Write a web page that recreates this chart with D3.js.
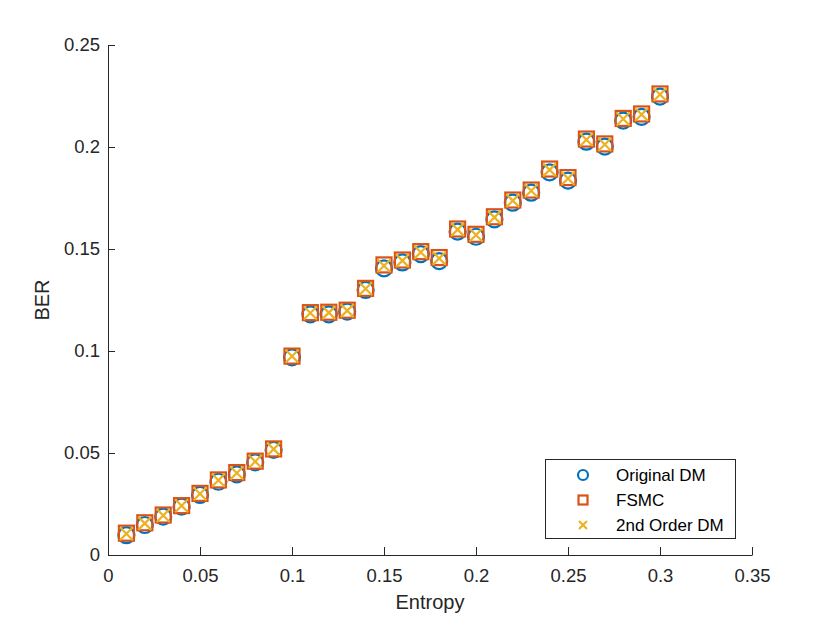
<!DOCTYPE html>
<html>
<head>
<meta charset="utf-8">
<script src="https://cdn.jsdelivr.net/npm/d3@7"></script>
<style>
  html, body { margin: 0; padding: 0; background: #fff; }
  svg { display: block; font-family: "Liberation Sans", Arial, sans-serif; }
</style>
</head>
<body>
<div id="chart"></div>
<script>
// ── data ──────────────────────────────────────────────
const entropy = [0.01, 0.02, 0.03, 0.04, 0.05, 0.06, 0.07, 0.08, 0.09, 0.10,
                 0.11, 0.12, 0.13, 0.14, 0.15, 0.16, 0.17, 0.18, 0.19, 0.20,
                 0.21, 0.22, 0.23, 0.24, 0.25, 0.26, 0.27, 0.28, 0.29, 0.30];

const berOriginal = [0.0097, 0.0147, 0.0188, 0.0237, 0.0294, 0.0359, 0.0395, 0.0454, 0.0515, 0.0969,
                     0.1180, 0.1180, 0.1193, 0.1299, 0.1405, 0.1434, 0.1475, 0.1441, 0.1585, 0.1560,
                     0.1645, 0.1727, 0.1776, 0.1876, 0.1835, 0.2026, 0.2002, 0.2129, 0.2148, 0.2247];

const berFSMC = [0.0107, 0.0158, 0.0196, 0.0242, 0.0302, 0.0368, 0.0404, 0.0460, 0.0520, 0.0975,
                 0.1188, 0.1190, 0.1200, 0.1307, 0.1422, 0.1446, 0.1487, 0.1458, 0.1598, 0.1572,
                 0.1658, 0.1740, 0.1789, 0.1892, 0.1850, 0.2039, 0.2015, 0.2140, 0.2162, 0.2260];

const ber2nd = [0.0104, 0.0155, 0.0194, 0.0241, 0.0300, 0.0366, 0.0402, 0.0458, 0.0519, 0.0974,
                0.1186, 0.1188, 0.1198, 0.1305, 0.1418, 0.1443, 0.1484, 0.1454, 0.1595, 0.1569,
                0.1655, 0.1737, 0.1786, 0.1888, 0.1846, 0.2036, 0.2012, 0.2137, 0.2159, 0.2257];

const xTicks = [0, 0.05, 0.1, 0.15, 0.2, 0.25, 0.3, 0.35];
const yTicks = [0, 0.05, 0.1, 0.15, 0.2, 0.25];
const seriesNames = ['Original DM', 'FSMC', '2nd Order DM'];

const COLOR = { blue: '#0072BD', orange: '#D95319', yellow: '#EDB120', axis: '#262626' };

// ── layout ────────────────────────────────────────────
const W = 830, H = 623;
const M = { left: 108, right: 78, top: 45, bottom: 68 };

const svg = d3.select('#chart').append('svg')
  .attr('width', W).attr('height', H);

const x = d3.scaleLinear().domain([0, 0.35]).range([M.left, W - M.right]);
const y = d3.scaleLinear().domain([0, 0.25]).range([H - M.bottom, M.top]);

// ── axes ──────────────────────────────────────────────
const xAxis = svg.append('g')
  .attr('transform', `translate(0,${y(0)})`)
  .call(d3.axisBottom(x).tickValues(xTicks).tickSizeInner(-8).tickSizeOuter(0)
    .tickPadding(14).tickFormat(d => d3.format('~g')(d)));

const yAxis = svg.append('g')
  .attr('transform', `translate(${x(0)},0)`)
  .call(d3.axisLeft(y).tickValues(yTicks).tickSizeInner(-7).tickSizeOuter(0)
    .tickPadding(8).tickFormat(d => d3.format('~g')(d)));

[xAxis, yAxis].forEach(g => {
  g.select('.domain').attr('stroke', COLOR.axis).attr('stroke-width', 1);
  g.selectAll('.tick line').attr('stroke', COLOR.axis).attr('stroke-width', 1);
  g.selectAll('.tick text').attr('fill', COLOR.axis).style('font-size', '18.5px');
});

svg.append('text')
  .attr('x', x(0.175)).attr('y', 609)
  .attr('text-anchor', 'middle')
  .attr('fill', COLOR.axis).style('font-size', '20px')
  .text('Entropy');

svg.append('text')
  .attr('transform', `translate(49,${y(0.125)}) rotate(-90)`)
  .attr('text-anchor', 'middle')
  .attr('fill', COLOR.axis).style('font-size', '20px')
  .text('BER');

// ── markers ───────────────────────────────────────────
function circle(g, cx, cy, r) {
  g.append('circle').attr('cx', cx).attr('cy', cy).attr('r', r)
    .attr('fill', 'none').attr('stroke', COLOR.blue).attr('stroke-width', 2.2);
}
function square(g, cx, cy, s) {
  g.append('rect').attr('x', cx - s / 2).attr('y', cy - s / 2)
    .attr('width', s).attr('height', s)
    .attr('fill', 'none').attr('stroke', COLOR.orange).attr('stroke-width', 2.2);
}
function cross(g, cx, cy, s) {
  const h = s / 2;
  g.append('path')
    .attr('d', `M${cx - h},${cy - h}L${cx + h},${cy + h}M${cx - h},${cy + h}L${cx + h},${cy - h}`)
    .attr('stroke', COLOR.yellow).attr('stroke-width', 2.2).attr('fill', 'none');
}

const gO = svg.append('g'), gF = svg.append('g'), gS = svg.append('g');
entropy.forEach((e, i) => {
  circle(gO, x(e), y(berOriginal[i]), 8);
  square(gF, x(e), y(berFSMC[i]), 15);
  cross(gS, x(e), y(ber2nd[i]), 13);
});

// ── legend ────────────────────────────────────────────
const leg = svg.append('g');
leg.append('rect')
  .attr('x', 545.5).attr('y', 459.5).attr('width', 190).attr('height', 79)
  .attr('fill', '#fff').attr('stroke', COLOR.axis).attr('stroke-width', 1);

const rowY = [475, 500, 525];
circle(leg, 583, rowY[0], 5);
square(leg, 583, rowY[1], 9);
cross(leg, 583, rowY[2], 8);
seriesNames.forEach((name, i) => {
  leg.append('text')
    .attr('x', 616).attr('y', rowY[i]).attr('dy', '0.35em')
    .attr('fill', '#000').style('font-size', '17px')
    .text(name);
});
</script>
</body>
</html>
